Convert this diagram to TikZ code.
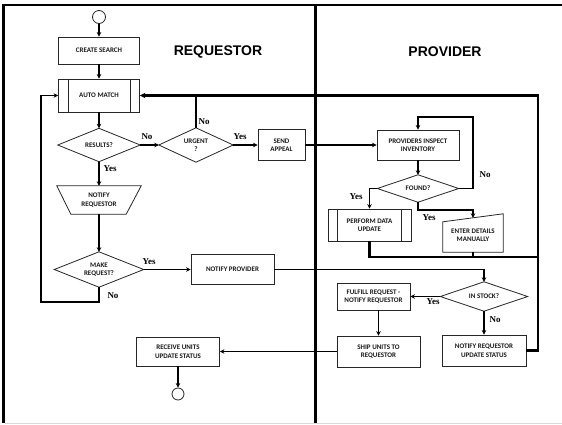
\documentclass[tikz,border=0pt]{standalone}
\usepackage{fontspec}
\setmainfont{Carlito}
\newfontfamily\lblfont{Liberation Serif}
\newfontfamily\headfont{Liberation Sans}
\usetikzlibrary{arrows.meta}

\tikzset{
  boxtext/.style={font=\bfseries\fontsize{7}{8.5}\selectfont, align=center, text=black!90},
  outline/.style={draw=black!85, line width=0.8pt},
  box/.style={boxtext, outline, rectangle, inner sep=0pt},
  bare/.style={boxtext, rectangle, inner sep=0pt},
  term/.style={circle, outline, minimum size=13pt, inner sep=0pt},
  flow/.style={line width=1.3pt, -{Stealth[length=4.5pt,width=4.5pt]}},
  link/.style={line width=1.3pt},
  loopline/.style={line width=2.2pt},
  backflow/.style={line width=2.2pt, -{Stealth[length=5.5pt,width=5.5pt]}},
  yn/.style={font=\lblfont\bfseries\fontsize{9}{9}\selectfont, inner sep=0pt},
  lane/.style={font=\headfont\bfseries\fontsize{14}{14}\selectfont},
}

\begin{document}
\begin{tikzpicture}[x=1pt,y=-1pt]
\useasboundingbox (0,0) rectangle (562,424);

% swimlane frame
\draw[line width=2pt] (3,5) -- (562,5);
\draw[line width=3pt] (3,4) -- (3,423);
\draw[line width=3.5pt] (315.5,4) -- (315.5,423);
\draw[black!15, line width=1pt] (5,423.5) -- (562,423.5);

\node[lane] (reqlane) at (218,52) {REQUESTOR};
\node[lane] (provlane) at (445,52) {PROVIDER};

% requestor lane
\node[term] (start) at (99,17) {};
\node[box, minimum width=81pt, minimum height=27pt] (create) at (99,50.5) {CREATE SEARCH};
\node[box, minimum width=81pt, minimum height=33pt] (automatch) at (99,95.5) {AUTO MATCH};
\node[bare, minimum width=82pt, minimum height=33pt] (results) at (99,145) {RESULTS?};
\node[bare, minimum width=74pt, minimum height=34pt] (urgent) at (196,145) {URGENT\\?};
\node[box, minimum width=47pt, minimum height=31pt] (sendappeal) at (281.5,145) {SEND\\APPEAL};
\node[bare, minimum width=84pt, minimum height=28pt] (notifyreq) at (99,200) {NOTIFY\\REQUESTOR};
\node[bare, minimum width=89pt, minimum height=35pt] (makereq) at (99,269.5) {MAKE\\REQUEST?};
\node[box, minimum width=83pt, minimum height=30pt] (notifyprov) at (232.5,269.5) {NOTIFY PROVIDER};
\node[box, minimum width=83pt, minimum height=29pt] (receive) at (178,351.5) {RECEIVE UNITS\\UPDATE STATUS};
\node[term, minimum size=12pt] (finish) at (178,394) {};

% provider lane
\node[box, minimum width=82pt, minimum height=30pt] (inspect) at (418,145) {PROVIDERS INSPECT\\INVENTORY};
\node[bare, minimum width=81pt, minimum height=27pt] (found) at (418,188.5) {FOUND?};
\node[box, minimum width=83pt, minimum height=32pt] (perform) at (369.5,225) {PERFORM DATA\\UPDATE};
\node[bare, minimum width=60pt, minimum height=34pt] (enter) at (473,235) {ENTER DETAILS\\MANUALLY};
\node[bare, minimum width=87pt, minimum height=29pt] (instock) at (484,296.5) {IN STOCK?};
\node[box, minimum width=73pt, minimum height=27pt] (fulfill) at (373.5,296.5) {FULFILL REQUEST -\\NOTIFY REQUESTOR};
\node[box, minimum width=83pt, minimum height=31pt] (ship) at (378.5,351.5) {SHIP UNITS TO\\REQUESTOR};
\node[box, minimum width=84pt, minimum height=31pt] (notifyupd) at (484,350.5) {NOTIFY REQUESTOR\\UPDATE STATUS};

% decision outlines
\foreach \n in {results,urgent,makereq,found,instock}
  \draw[outline] (\n.north) -- (\n.east) -- (\n.south) -- (\n.west) -- cycle;

% predefined-process side bars
\foreach \n in {automatch,perform} {
  \draw[outline] ([xshift=10pt]\n.north west) -- ([xshift=10pt]\n.south west);
  \draw[outline] ([xshift=-10pt]\n.north east) -- ([xshift=-10pt]\n.south east);
}

% manual operation (notify requestor) and manual input (enter details)
\draw[outline] (notifyreq.north west) -- (notifyreq.north east)
  -- ([xshift=-15pt]notifyreq.south east) -- ([xshift=14pt]notifyreq.south west) -- cycle;
\draw[outline] ([yshift=-4pt]enter.north west) -- ([yshift=4pt]enter.north east)
  -- (enter.south east) -- (enter.south west) -- cycle;

% routing points
\coordinate (lloop) at (41,302);
\coordinate (rail) at (538,200);
\coordinate (uploop) at (473,117);
\coordinate (fy) at (440,210);
\coordinate (merge) at (538,257);

% requestor flow
\draw[flow] (start) -- (create);
\draw[flow] (create) -- (automatch);
\draw[flow] (automatch) -- (results);
\draw[flow] (results.east) -- (urgent.west);
\draw[flow] (urgent.east) -- (sendappeal.west);
\draw[link] (urgent.north) -- (urgent.north |- automatch.east);
\draw[flow] (sendappeal.east) -- (inspect.west);
\draw[flow] (results.south) -- (notifyreq.north);
\draw[flow] (notifyreq.south) -- (makereq.north);
\draw[flow] (makereq.east) -- (notifyprov.west);
\draw[flow] (makereq.south) |- (lloop) |- (automatch.west);
\draw[flow] (notifyprov.east) -| (instock.north);
\draw[flow] (receive.south) -- (finish);

% provider flow
\draw[flow] (inspect.south) -- (found.north);
\draw[flow] (found.east) -| (uploop) -| (inspect.north);
\draw[flow] (found.west) -| (perform.north);
\draw[flow] (found.south) |- (fy) -| (enter.north);
\draw[loopline] (perform.south) |- (merge);
\draw[loopline] (enter.south) -- (enter.south |- merge);
\draw[backflow] (notifyupd.east) -| (rail) |- (automatch.east);
\draw[flow] (instock.west) -- (fulfill.east);
\draw[flow] (instock.south) -- (notifyupd.north);
\draw[flow] (fulfill.south -| ship.north) -- (ship.north);
\draw[flow] (ship.west) -- (receive.east);

% branch labels
\node[yn] (l1) at (147,137) {No};
\node[yn] (l2) at (240,137) {Yes};
\node[yn] (l3) at (204,122) {No};
\node[yn] (l4) at (110,169) {Yes};
\node[yn] (l5) at (149,262) {Yes};
\node[yn] (l6) at (113,296) {No};
\node[yn] (l7) at (485,175) {No};
\node[yn] (l8) at (356,197) {Yes};
\node[yn] (l9) at (429,218) {Yes};
\node[yn] (l10) at (433,302) {Yes};
\node[yn] (l11) at (495,320) {No};
\end{tikzpicture}
\end{document}
